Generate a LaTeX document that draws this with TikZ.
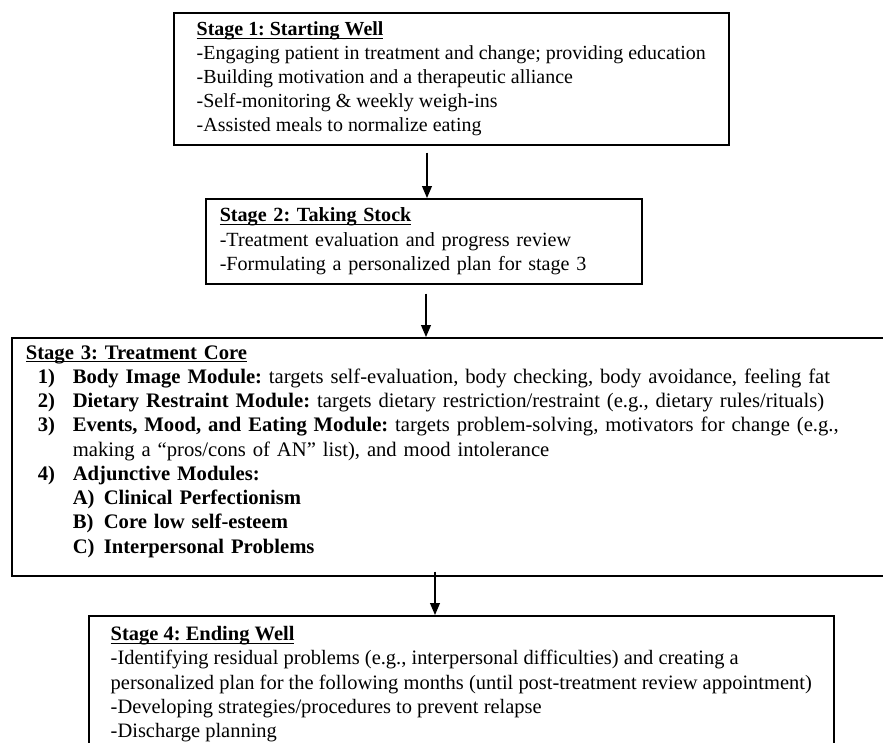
\documentclass[tikz,border=0pt]{standalone}
\usepackage{fontspec}
\setmainfont{Liberation Serif}
\usetikzlibrary{arrows.meta}
\frenchspacing
\hyphenpenalty=10000
\newlength{\pxu}
\setlength{\pxu}{0.5714pt}
\newlength{\headw}
\newcommand{\stagehead}[1]{\settowidth{\headw}{\textbf{#1}}\textbf{#1}\llap{\rule[-1.8pt]{\headw}{0.6pt}}}
\newcommand{\modline}[2]{\hspace*{12\pxu}\makebox[35\pxu][l]{\textbf{#1}}#2}
\newcommand{\subline}[2]{\hspace*{47\pxu}\makebox[31\pxu][l]{\textbf{#1}}\textbf{#2}}

\begin{document}
\begin{tikzpicture}[x=0.5714pt, y=-0.5714pt,
        stagebox/.style = {shape=rectangle, draw, line width=0.9pt, anchor=north west, align=left, inner ysep=0pt, font=\fontsize{11.8}{13.85}\selectfont},
        flow/.style = {line width=0.75pt, -{Triangle[width=5.6pt, length=6.8pt]}}]
    \useasboundingbox (0,0) rectangle (883,743);
    \clip (0,0) rectangle (883,743);
        \node[stagebox, font=\fontsize{11.4}{13.7}\selectfont, minimum width=555\pxu, minimum height=132\pxu] (s1) at (173,12) {
            \stagehead{Stage 1: Starting Well} \\
            -Engaging patient in treatment and change; providing education \\
            -Building motivation and a therapeutic alliance \\
            -Self-monitoring \& weekly weigh-ins \\
            -Assisted meals to normalize eating
        };
        \node[stagebox, font=\fontsize{11.5}{13.85}\selectfont, text width=408\pxu, inner xsep=14\pxu, minimum height=85\pxu] (s2) at (205,198) {
            \stagehead{Stage 2: Taking Stock} \\
            -Treatment evaluation and progress review \\
            -Formulating a personalized plan for stage 3
        };
        \node[stagebox, text width=861\pxu, inner xsep=14\pxu, minimum height=238\pxu] (s3) at (11,337) {
            \stagehead{Stage 3: Treatment Core} \\
            \modline{1)}{\textbf{Body Image Module:} targets self-evaluation, body checking, body avoidance, feeling fat} \\
            \modline{2)}{\textbf{Dietary Restraint Module:} targets dietary restriction/restraint (e.g., dietary rules/rituals)} \\
            \modline{3)}{\textbf{Events, Mood, and Eating Module:} targets problem-solving, motivators for change (e.g.,} \\
            \hspace*{47\pxu}making a “pros/cons of AN” list), and mood intolerance \\
            \modline{4)}{\textbf{Adjunctive Modules:}} \\
            \subline{A)}{Clinical Perfectionism} \\
            \subline{B)}{Core low self-esteem} \\
            \subline{C)}{Interpersonal Problems}\rule[-15\pxu]{0pt}{15\pxu}
        };
        \node[stagebox, font=\fontsize{11.7}{13.85}\selectfont, minimum width=745\pxu, minimum height=137\pxu] (s4) at (88,615) {
            \stagehead{Stage 4: Ending Well} \\
            -Identifying residual problems (e.g., interpersonal difficulties) and creating a \\
            personalized plan for the following months (until post-treatment review appointment) \\
            -Developing strategies/procedures to prevent relapse \\
            -Discharge planning
        };
        \draw[flow, shorten <=7\pxu] (s1.south -| 427,0) -- (s2.north -| 427,0);
        \draw[flow, shorten <=9\pxu] (s2.south -| 426,0) -- (s3.north -| 426,0);
        \draw[flow, shorten <=-5\pxu] (s3.south -| 435,0) -- (s4.north -| 435,0);
\end{tikzpicture}
\end{document}
